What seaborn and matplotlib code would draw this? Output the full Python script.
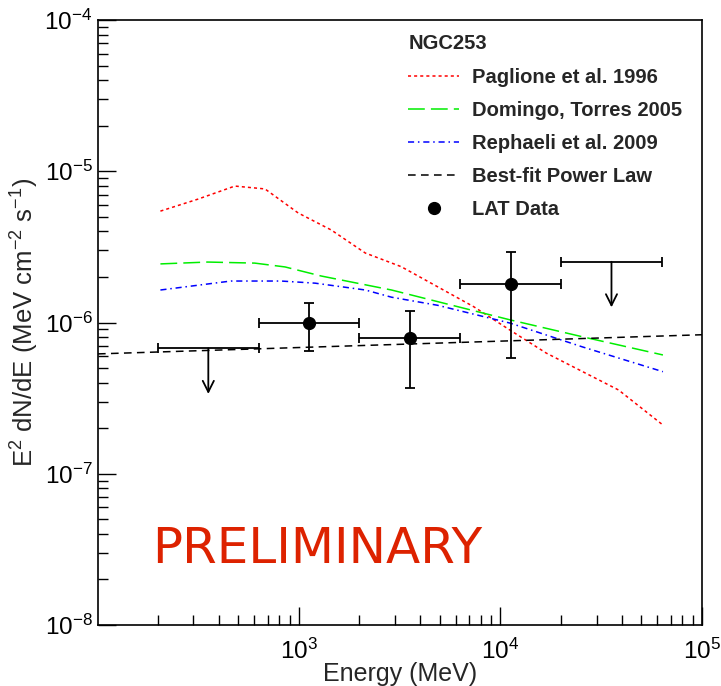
import numpy as np
import pandas as pd
import matplotlib
matplotlib.use("Agg")
import matplotlib.pyplot as plt
from matplotlib.lines import Line2D
import seaborn as sns

# model curves (energy in MeV, E^2 dN/dE in MeV cm^-2 s^-1)
paglione_e = [206, 315, 482, 680, 993, 1449, 2138, 3221, 7387, 11170, 16880, 38550, 64000]
paglione_f = [5.45e-6, 6.53e-6, 7.98e-6, 7.64e-6, 5.3e-6, 4.09e-6, 2.88e-6, 2.34e-6,
              1.27e-6, 8.9e-7, 6.28e-7, 3.58e-7, 2.1e-7]

domingo_e = [206, 353, 605, 855, 1291, 2884, 11200, 25500, 64000]
domingo_f = [2.44e-6, 2.51e-6, 2.47e-6, 2.33e-6, 2.03e-6, 1.64e-6, 1.04e-6, 8.05e-7, 6.1e-7]

rephaeli_e = [206, 461, 817, 1206, 2140, 2884, 4876, 11200, 25500, 64000]
rephaeli_f = [1.64e-6, 1.88e-6, 1.88e-6, 1.82e-6, 1.64e-6, 1.47e-6, 1.3e-6, 9.9e-7, 6.9e-7, 4.73e-7]

powerlaw_e = [101, 1e5]
powerlaw_f = [6.2e-7, 8.3e-7]

# LAT data points
lat_e = [1125, 3557, 11247]
lat_lo = [632, 2000, 6325]
lat_hi = [2000, 6325, 20000]
lat_f = [1.0e-6, 7.94e-7, 1.79e-6]
lat_f_lo = [6.5e-7, 3.7e-7, 5.85e-7]
lat_f_hi = [1.35e-6, 1.2e-6, 2.94e-6]

# upper limits
ul_e = [356, 35566]
ul_lo = [200, 20000]
ul_hi = [632, 63246]
ul_f = [6.74e-7, 2.52e-6]

sns.set_style("white")
plt.rcParams['font.family'] = ['Liberation Sans', 'DejaVu Sans']
plt.rcParams['mathtext.default'] = 'regular'
plt.rcParams['axes.unicode_minus'] = False

fig = plt.figure(figsize=(7.21, 6.86), dpi=100)
ax = fig.add_axes([98 / 721, 1 - 625 / 686, 604 / 721, 605 / 686])

curves = [
    (paglione_e, paglione_f, 'Paglione et al. 1996', '#ff0000', (0, (2, 2))),
    (domingo_e, domingo_f, 'Domingo, Torres 2005', '#00ee00', (0, (11, 4))),
    (rephaeli_e, rephaeli_f, 'Rephaeli et al. 2009', '#0000ff', (0, (4, 2.5, 1, 2.5))),
    (powerlaw_e, powerlaw_f, 'Best-fit Power Law', '#000000', (0, (5, 3.5))),
]
handles = []
for e, f, lab, col, ls in curves:
    df = pd.DataFrame({'E': e, 'F': f})
    sns.lineplot(data=df, x='E', y='F', ax=ax, color=col, lw=1.1, linestyle=ls, legend=False)
    handles.append(Line2D([], [], color=col, lw=1.1, linestyle=ls, label=lab))

lat_f_arr = np.array(lat_f)
lat_e_arr = np.array(lat_e)
ax.errorbar(lat_e, lat_f,
            xerr=[lat_e_arr - np.array(lat_lo), np.array(lat_hi) - lat_e_arr],
            yerr=[lat_f_arr - np.array(lat_f_lo), np.array(lat_f_hi) - lat_f_arr],
            fmt='o', color='black', ms=8.5, elinewidth=1.3, capsize=3.5, capthick=1.3)
handles.append(Line2D([], [], color='black', marker='o', ms=8.5, lw=0, label='LAT Data'))

ul_e_arr = np.array(ul_e)
ax.errorbar(ul_e, ul_f, xerr=[ul_e_arr - np.array(ul_lo), np.array(ul_hi) - ul_e_arr],
            fmt='none', ecolor='black', elinewidth=1.3, capsize=3.5, capthick=1.3)
for e, f in zip(ul_e, ul_f):
    ax.annotate('', xy=(e, f * 0.5), xytext=(e, f),
                arrowprops=dict(arrowstyle='->, head_length=0.8, head_width=0.4',
                                color='black', lw=1.3, shrinkA=0, shrinkB=0))

ax.set_xscale('log')
ax.set_yscale('log')
ax.set_xlim(101, 1e5)
ax.set_ylim(1e-8, 1e-4)

for s in ax.spines.values():
    s.set_color('black')
    s.set_linewidth(1.2)

ax.tick_params(which='both', direction='in', bottom=True, left=True, top=False, right=False,
               colors='black', labelsize=17.5, width=1.0)
ax.tick_params(axis='y', which='major', length=13, pad=4)
ax.tick_params(axis='x', which='major', length=13, pad=10)
ax.tick_params(which='minor', length=7)

ax.set_xlabel('Energy (MeV)', fontsize=18)
ax.set_ylabel('E$^{2}$ dN/dE (MeV cm$^{-2}$ s$^{-1}$)', fontsize=18.5)
ax.xaxis.set_label_coords(0.5, -0.061)
ax.yaxis.set_label_coords(-0.094, 0.5)

ax.text(0.09, 0.125, 'PRELIMINARY', transform=ax.transAxes, color='#dd2200',
        fontsize=36, family='DejaVu Sans', va='center', ha='left')

leg = ax.legend(handles=handles, title='NGC253', loc='upper left',
                bbox_to_anchor=(0.484, 1.006), frameon=False,
                prop={'weight': 'bold', 'size': 14.5}, handlelength=2.5,
                handletextpad=0.65, labelspacing=0.7, alignment='left')
leg.get_title().set_fontweight('bold')
leg.get_title().set_fontsize(14.5)

fig.savefig('out.png', dpi=100)
